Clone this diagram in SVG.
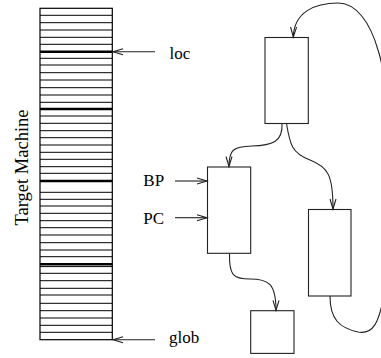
<svg xmlns="http://www.w3.org/2000/svg" width="381" height="358" viewBox="0 0 381 358">
<style>
text{font-family:"Liberation Serif","Times New Roman",serif;font-size:17px;fill:#000}
.box{fill:#fff;stroke:#222;stroke-width:1.1}
.row{stroke:#000;stroke-width:1}
.thick{stroke:#000;stroke-width:2.4}
.conn{fill:none;stroke:#222;stroke-width:1.1;marker-end:url(#arr)}
</style>
<defs>
<marker id="arr" markerUnits="userSpaceOnUse" markerWidth="12" markerHeight="8" refX="10" refY="3" orient="auto" overflow="visible">
<path d="M0,0 L10,3 L0,6" fill="none" stroke="#222" stroke-width="1.1"/>
</marker>
</defs>
<rect width="381" height="358" fill="#fff"/>
<g id="memory">
<rect x="40" y="8.3" width="72.3" height="331.4" fill="#fff" stroke="#000" stroke-width="1.2"/>
<g class="row">
<line x1="40" x2="112.3" y1="15.3" y2="15.3"/>
<line x1="40" x2="112.3" y1="22.7" y2="22.7"/>
<line x1="40" x2="112.3" y1="30" y2="30"/>
<line x1="40" x2="112.3" y1="37.3" y2="37.3"/>
<line x1="40" x2="112.3" y1="44.3" y2="44.3"/>
<line x1="40" x2="112.3" y1="58.3" y2="58.3"/>
<line x1="40" x2="112.3" y1="65" y2="65"/>
<line x1="40" x2="112.3" y1="72.7" y2="72.7"/>
<line x1="40" x2="112.3" y1="80" y2="80"/>
<line x1="40" x2="112.3" y1="87.7" y2="87.7"/>
<line x1="40" x2="112.3" y1="95" y2="95"/>
<line x1="40" x2="112.3" y1="102.3" y2="102.3"/>
<line x1="40" x2="112.3" y1="116" y2="116"/>
<line x1="40" x2="112.3" y1="123.3" y2="123.3"/>
<line x1="40" x2="112.3" y1="130.7" y2="130.7"/>
<line x1="40" x2="112.3" y1="137.7" y2="137.7"/>
<line x1="40" x2="112.3" y1="145" y2="145"/>
<line x1="40" x2="112.3" y1="152.3" y2="152.3"/>
<line x1="40" x2="112.3" y1="159.3" y2="159.3"/>
<line x1="40" x2="112.3" y1="166.7" y2="166.7"/>
<line x1="40" x2="112.3" y1="173.3" y2="173.3"/>
<line x1="40" x2="112.3" y1="192.3" y2="192.3"/>
<line x1="40" x2="112.3" y1="199.3" y2="199.3"/>
<line x1="40" x2="112.3" y1="206" y2="206"/>
<line x1="40" x2="112.3" y1="213.3" y2="213.3"/>
<line x1="40" x2="112.3" y1="220.7" y2="220.7"/>
<line x1="40" x2="112.3" y1="227.7" y2="227.7"/>
<line x1="40" x2="112.3" y1="235" y2="235"/>
<line x1="40" x2="112.3" y1="242.7" y2="242.7"/>
<line x1="40" x2="112.3" y1="250" y2="250"/>
<line x1="40" x2="112.3" y1="256.7" y2="256.7"/>
<line x1="40" x2="112.3" y1="266.6" y2="266.6"/>
<line x1="40" x2="112.3" y1="273.3" y2="273.3"/>
<line x1="40" x2="112.3" y1="280.7" y2="280.7"/>
<line x1="40" x2="112.3" y1="288.3" y2="288.3"/>
<line x1="40" x2="112.3" y1="295" y2="295"/>
<line x1="40" x2="112.3" y1="303.3" y2="303.3"/>
<line x1="40" x2="112.3" y1="310.7" y2="310.7"/>
<line x1="40" x2="112.3" y1="318" y2="318"/>
<line x1="40" x2="112.3" y1="325.3" y2="325.3"/>
<line x1="40" x2="112.3" y1="332.3" y2="332.3"/>
</g>
<g class="thick">
<line x1="40" x2="112.3" y1="51.7" y2="51.7"/>
<line x1="40" x2="112.3" y1="109" y2="109"/>
<line x1="40" x2="112.3" y1="181" y2="181"/>
<line x1="40" x2="112.3" y1="264.2" y2="264.2"/>
</g>
</g>
<g id="label-target-machine"><text transform="translate(27.5,167.5) rotate(-90)" text-anchor="middle" style="font-size:18.5px">Target Machine</text></g>
<g id="label-loc"><text x="169.5" y="59">loc</text></g>
<g id="label-glob"><text x="169" y="342.7">glob</text></g>
<g id="label-bp"><text x="143.3" y="185.7">BP</text></g>
<g id="label-pc"><text x="143.3" y="224">PC</text></g>
<g id="frame-top"><rect class="box" x="265" y="37.5" width="43.3" height="86"/></g>
<g id="frame-current"><rect class="box" x="207.5" y="167" width="43.2" height="86.3"/></g>
<g id="frame-right"><rect class="box" x="308.5" y="209.5" width="42.5" height="86.5"/></g>
<g id="frame-small"><rect class="box" x="250.7" y="310.7" width="43.3" height="42.7"/></g>
<g id="connectors">
<line class="conn" x1="155" y1="51.7" x2="113" y2="51.7"/>
<line class="conn" x1="155" y1="339.7" x2="113" y2="339.7"/>
<line class="conn" x1="175" y1="181" x2="207" y2="181"/>
<line class="conn" x1="175" y1="217.7" x2="207" y2="217.7"/>
<path class="conn" d="M282 123.5 C283 142 272 145.5 252 146 C233 146.5 229 150 229 166.5"/>
<path class="conn" d="M286.5 123.5 C290 145 292 153 310 160 C328 167 333 175 333 209"/>
<path class="conn" d="M229.5 253.5 C229 275 233 279 250 279 C268 279 276 283 276 310.3"/>
<path class="conn" d="M330 296 C330 320 340 328 358 332 C374 335 379 320 383 300 C392 250 392 90 378 50 C370 22 356 3 338 3 C315 3 294 12 293.3 37"/>
</g>
</svg>
